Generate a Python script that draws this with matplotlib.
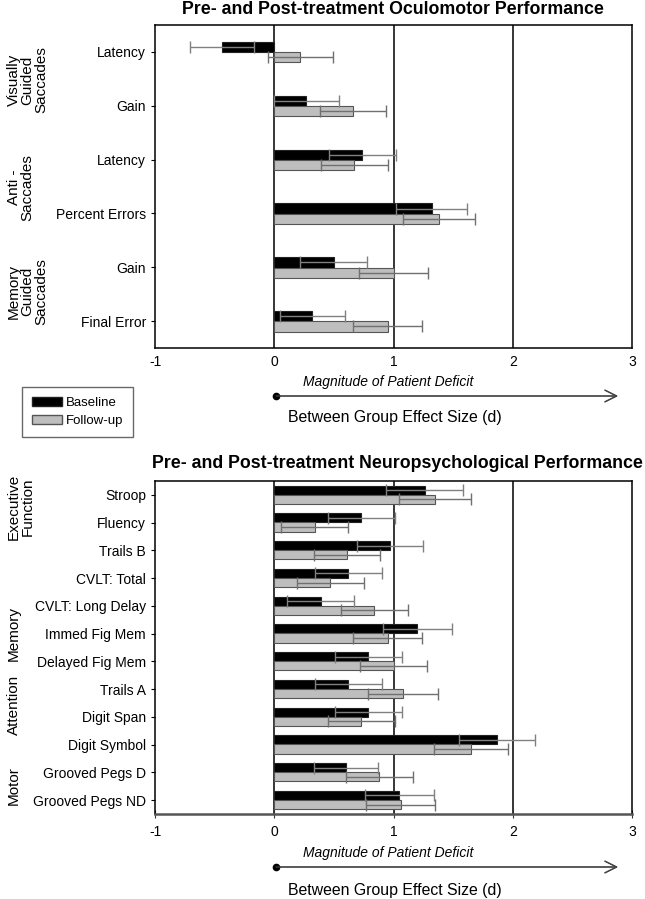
import matplotlib
matplotlib.use('Agg')
import matplotlib.pyplot as plt
from matplotlib.patches import Patch
from matplotlib.lines import Line2D
import numpy as np

plt.rcParams['font.family'] = ['Liberation Sans', 'DejaVu Sans']

# --- data: effect size (d) and standard error ---
oculo_labels = ['Latency', 'Gain', 'Latency', 'Percent Errors', 'Gain', 'Final Error']
oculo_base = [-0.44, 0.27, 0.74, 1.32, 0.50, 0.32]
oculo_base_se = [0.27, 0.27, 0.28, 0.30, 0.28, 0.27]
oculo_follow = [0.22, 0.66, 0.67, 1.38, 1.00, 0.95]
oculo_follow_se = [0.27, 0.28, 0.28, 0.30, 0.29, 0.29]
oculo_groups = ['Visually\nGuided\nSaccades', 'Anti -\nSaccades', 'Memory\nGuided\nSaccades']
oculo_group_pos = [0.52, 2.52, 4.45]

neuro_labels = ['Stroop', 'Fluency', 'Trails B', 'CVLT: Total', 'CVLT: Long Delay',
                'Immed Fig Mem', 'Delayed Fig Mem', 'Trails A', 'Digit Span',
                'Digit Symbol', 'Grooved Pegs D', 'Grooved Pegs ND']
neuro_base = [1.26, 0.73, 0.97, 0.62, 0.39, 1.20, 0.79, 0.62, 0.79, 1.87, 0.60, 1.05]
neuro_base_se = [0.32, 0.28, 0.28, 0.28, 0.28, 0.29, 0.28, 0.28, 0.28, 0.32, 0.27, 0.29]
neuro_follow = [1.35, 0.34, 0.61, 0.47, 0.84, 0.95, 1.00, 1.08, 0.73, 1.65, 0.88, 1.06]
neuro_follow_se = [0.30, 0.28, 0.28, 0.28, 0.28, 0.29, 0.28, 0.29, 0.28, 0.31, 0.28, 0.29]
neuro_groups = ['Executive\nFunction', 'Memory', 'Attention', 'Motor']
neuro_group_pos = [0.44, 4.98, 7.57, 10.49]

x_ticks = [-1, 0, 1, 2, 3]

W, H = 645, 899
GREY = '#bebebe'


def fx(x):
    return x / W


def fy(y):
    return 1 - y / H


def panel(fig, top, bottom, labels, base, base_se, follow, follow_se,
          groups, group_pos, title, bar_h, off_b, off_f, title_xy, x_ticks_on):
    ax = fig.add_axes([fx(155), fy(bottom), fx(632) - fx(155), (bottom - top) / H])
    y = np.arange(len(labels))
    ax.barh(y + off_b, base, height=bar_h, color='black', edgecolor='#222222', lw=0.8, zorder=2)
    ax.barh(y + off_f, follow, height=bar_h, color=GREY, edgecolor='#555555', lw=0.8, zorder=2)
    ax.errorbar(base, y + off_b, xerr=base_se, fmt='none', ecolor='#808080',
                elinewidth=1, capsize=4, capthick=1, zorder=3)
    ax.errorbar(follow, y + off_f, xerr=follow_se, fmt='none', ecolor='#707070',
                elinewidth=1, capsize=4, capthick=1, zorder=3)
    for v in [0, 1, 2]:
        ax.axvline(v, color='black', lw=1.1, zorder=1)
    ax.set_xlim(-1, 3)
    ax.set_ylim(len(labels) - 0.5, -0.5)
    ax.set_yticks(y)
    ax.set_yticklabels(labels, fontsize=10)
    ax.set_xticks(x_ticks)
    ax.set_xticklabels([str(t) for t in x_ticks], fontsize=10)
    if x_ticks_on:
        ax.tick_params(axis='x', length=6, direction='inout', pad=5, color='#333333')
        ax.spines['bottom'].set_color('#555555')
    else:
        ax.tick_params(axis='x', length=0, pad=5)
    ax.tick_params(axis='y', length=3, pad=3.5)
    for s in ax.spines.values():
        s.set_linewidth(1.1)
    if x_ticks_on:
        ax.spines['bottom'].set_linewidth(1.8)
    fig.text(fx(title_xy[0]), fy(title_xy[1]), title, ha='center', va='center',
             fontsize=12.8, fontweight='bold')
    for g, p in zip(groups, group_pos):
        yy = top + (p + 0.5) * (bottom - top) / len(labels)
        fig.text(fx(7), fy(yy), g, rotation=90, ha='left', va='center',
                 fontsize=11, linespacing=0.95, multialignment='center')
    return ax


fig = plt.figure(figsize=(W / 100, H / 100), dpi=100)

panel(fig, 25, 348, oculo_labels, oculo_base, oculo_base_se, oculo_follow, oculo_follow_se,
      oculo_groups, oculo_group_pos, 'Pre- and Post-treatment Oculomotor Performance',
      0.19, -0.09, 0.10, (393, 9), False)
panel(fig, 481, 814, neuro_labels, neuro_base, neuro_base_se, neuro_follow, neuro_follow_se,
      neuro_groups, neuro_group_pos, 'Pre- and Post-treatment Neuropsychological Performance',
      0.33, -0.17, 0.16, (397, 463), True)

# deficit arrows and axis captions
for mag_y, arr_y, cap_y in [(382, 396, 418), (853, 867, 890)]:
    fig.text(fx(388), fy(mag_y), 'Magnitude of Patient Deficit', ha='center', va='center',
             fontsize=10, style='italic')
    fig.add_artist(plt.annotate('', xy=(fx(618), fy(arr_y)), xytext=(fx(276), fy(arr_y)),
                                xycoords='figure fraction', textcoords='figure fraction',
                                arrowprops=dict(arrowstyle='->,head_length=0.6,head_width=0.3',
                                                lw=0.9, color='#444444', mutation_scale=14,
                                                shrinkA=0, shrinkB=0)))
    fig.add_artist(Line2D([fx(276)], [fy(arr_y)], marker='o', ms=4.5, color='black'))
    fig.text(fx(395), fy(cap_y), 'Between Group Effect Size (d)', ha='center', va='center',
             fontsize=11.4)

handles = [Patch(facecolor='black', edgecolor='#222222'),
           Patch(facecolor=GREY, edgecolor='#555555')]
fig.legend(handles, ['Baseline', 'Follow-up'], loc='upper left',
           bbox_to_anchor=(fx(22), fy(387)), borderaxespad=0, fontsize=9.5, frameon=True,
           fancybox=False, edgecolor='#444444', handlelength=2.27, handleheight=0.68,
           borderpad=0.75, labelspacing=0.45, handletextpad=0.3)

fig.savefig('out.png', dpi=100)
